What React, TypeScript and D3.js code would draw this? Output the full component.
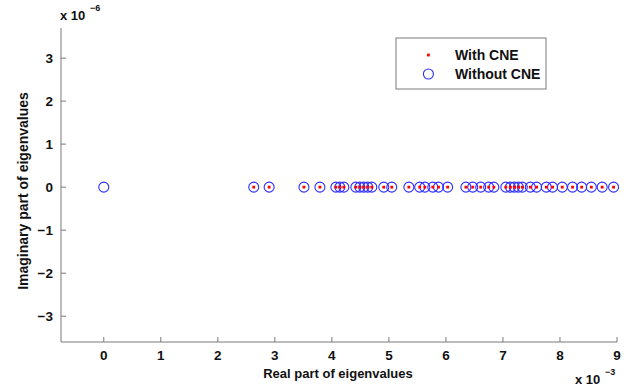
import * as d3 from "d3";

// real parts in units of 1e-3, imaginary parts in 1e-6
const withoutCNE = [
    0, 2.63, 2.9, 3.51, 3.79, 4.07, 4.14, 4.21, 4.42, 4.49, 4.56, 4.63, 4.7, 4.91, 5.05,
    5.35, 5.54, 5.63, 5.77, 5.87, 6.03, 6.35, 6.47, 6.61, 6.75, 6.84, 7.05, 7.13, 7.2,
    7.27, 7.34, 7.48, 7.59, 7.76, 7.87, 8.04, 8.22, 8.38, 8.55, 8.74, 8.94,
];
const withCNE = withoutCNE.slice( 1 );
const imagPart = 0;

const xTicks = [ 0, 1, 2, 3, 4, 5, 6, 7, 8, 9 ];
const yTicks = [ -3, -2, -1, 0, 1, 2, 3 ];
const legendItems = [ "With CNE", "Without CNE" ];

const W = 638;
const H = 390;
const m = { left: 61, right: 21, top: 28, bottom: 48 };
const font = "'Liberation Sans', Arial, sans-serif";
const axisColor = "#7a7a7a";

export default function App ()
{
    const x = d3.scaleLinear().domain( [ -0.75, 9 ] ).range( [ m.left, W - m.right ] );
    const y = d3.scaleLinear().domain( [ -3.6, 3.7 ] ).range( [ H - m.bottom, m.top ] );
    const bottom = H - m.bottom;

    return (
        <svg width={ W } height={ H } style={ { position: "absolute", left: 0, top: 0, background: "#fff" } }
            fontFamily={ font } fontWeight="bold">
            {/* axes */}
            <line x1={ m.left } x2={ m.left } y1={ m.top } y2={ bottom } stroke={ axisColor } />
            <line x1={ m.left } x2={ W - m.right } y1={ bottom } y2={ bottom } stroke={ axisColor } />

            { xTicks.map( t => (
                <g key={ `x${ t }` }>
                    <line x1={ x( t ) } x2={ x( t ) } y1={ bottom } y2={ bottom - 5 } stroke={ axisColor } />
                    <text x={ x( t ) } y={ bottom + 18 } textAnchor="middle" fontSize={ 13.5 } fill="#111">{ t }</text>
                </g>
            ) ) }
            { yTicks.map( t => (
                <g key={ `y${ t }` }>
                    <line x1={ m.left } x2={ m.left + 5 } y1={ y( t ) } y2={ y( t ) } stroke={ axisColor } />
                    <text x={ m.left - 8 } y={ y( t ) + 5 } textAnchor="end" fontSize={ 13.5 } fill="#111">
                        { t < 0 ? `\u2212${ -t }` : t }
                    </text>
                </g>
            ) ) }

            {/* exponent labels */}
            <text x={ 60 } y={ 20 } fontSize={ 13 } fill="#111">x 10</text>
            <text x={ 90 } y={ 11 } fontSize={ 9 } fill="#111">−6</text>
            <text x={ 575 } y={ 384 } fontSize={ 13 } fill="#111">x 10</text>
            <text x={ 605 } y={ 375 } fontSize={ 9 } fill="#111">−3</text>

            {/* axis titles */}
            <text x={ 338 } y={ 378 } textAnchor="middle" fontSize={ 13 } fill="#111">Real part of eigenvalues</text>
            <text transform={ `translate(28,${ ( m.top + bottom ) / 2 + 6 }) rotate(-90)` } textAnchor="middle"
                fontSize={ 14 } fill="#111">Imaginary part of eigenvalues</text>

            {/* data */}
            { withoutCNE.map( ( v, i ) => (
                <circle key={ `o${ i }` } cx={ x( v ) } cy={ y( imagPart ) } r={ 5 } fill="none" stroke="#2d2dff" strokeWidth={ 1.1 } />
            ) ) }
            { withCNE.map( ( v, i ) => (
                <rect key={ `d${ i }` } x={ x( v ) - 1.4 } y={ y( imagPart ) - 1.4 } width={ 2.8 } height={ 2.8 } fill="#ff0000" />
            ) ) }

            {/* legend */}
            <rect x={ 396 } y={ 38 } width={ 150 } height={ 51 } fill="#fff" stroke={ axisColor } />
            <rect x={ 427 } y={ 53.6 } width={ 2.8 } height={ 2.8 } fill="#ff0000" />
            <circle cx={ 428.4 } cy={ 74 } r={ 5 } fill="none" stroke="#2d2dff" strokeWidth={ 1.1 } />
            { legendItems.map( ( s, i ) => (
                <text key={ s } x={ 455 } y={ 60 + i * 19 } fontSize={ 14 } fill="#111">{ s }</text>
            ) ) }
        </svg>
    );
}
